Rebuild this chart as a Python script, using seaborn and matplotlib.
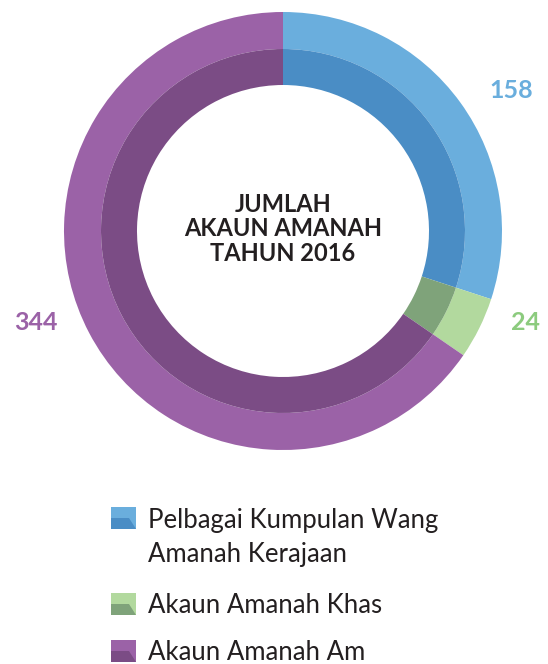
import matplotlib
matplotlib.use("Agg")
import matplotlib.pyplot as plt
from matplotlib.patches import Polygon, Rectangle
import seaborn as sns

sns.set_style("white")
plt.rcParams['font.family'] = ['Lato', 'DejaVu Sans']

# data
categories = ['Pelbagai Kumpulan Wang\nAmanah Kerajaan', 'Akaun Amanah Khas', 'Akaun Amanah Am']
values = [158, 24, 344]
light_colors = ['#6aaedd', '#b2d99e', '#9b62a7']
dark_colors = ['#4a8dc5', '#7fa37a', '#7b4c85']
label_colors = ['#6aaedd', '#8ccb7e', '#9b62a7']
center_title = 'JUMLAH\nAKAUN AMANAH\nTAHUN 2016'

W, H = 548, 664
fig = plt.figure(figsize=(W / 100, H / 100), dpi=100)
ax = fig.add_axes([0, 0, 1, 1])
ax.set_xlim(0, W)
ax.set_ylim(0, H)
ax.set_aspect('equal')
ax.axis('off')

cx, cy = 283, H - 231

# outer ring (light)
ax.pie(values, colors=light_colors, radius=219, center=(cx, cy),
       startangle=90, counterclock=False,
       wedgeprops=dict(width=37, linewidth=0))
# inner ring (dark)
ax.pie(values, colors=dark_colors, radius=182, center=(cx, cy),
       startangle=90, counterclock=False,
       wedgeprops=dict(width=36, linewidth=0))
ax.set_xlim(0, W)
ax.set_ylim(0, H)

# value labels
label_pos = [(511, H - 90), (526, H - 322), (36, H - 322)]
for v, c, (x, y) in zip(values, label_colors, label_pos):
    ax.text(x, y, str(v), color=c, fontsize=18, fontweight='bold',
            ha='center', va='center')

ax.text(cx, cy + 2, center_title, color='#231f20', fontsize=17, fontweight='bold',
        ha='center', va='center', linespacing=1.1, multialignment='center')

# legend
icon_tops = [507, 593, 640]
text_y = [528, 613, 660]
for top, ty, lc, dc, name in zip(icon_tops, text_y, light_colors, dark_colors, categories):
    y0 = H - top - 22
    ax.add_patch(Rectangle((111, y0), 25, 22, facecolor=lc, edgecolor='none'))
    ax.add_patch(Polygon([(111, y0), (136, y0), (129, y0 + 11), (111, y0 + 11)],
                         closed=True, facecolor=dc, edgecolor='none'))
    for i, line in enumerate(name.split('\n')):
        ax.text(148, H - ty - 34 * i, line, color='#231f20', fontsize=18.5,
                ha='left', va='baseline')

fig.savefig('out.png', dpi=100)
